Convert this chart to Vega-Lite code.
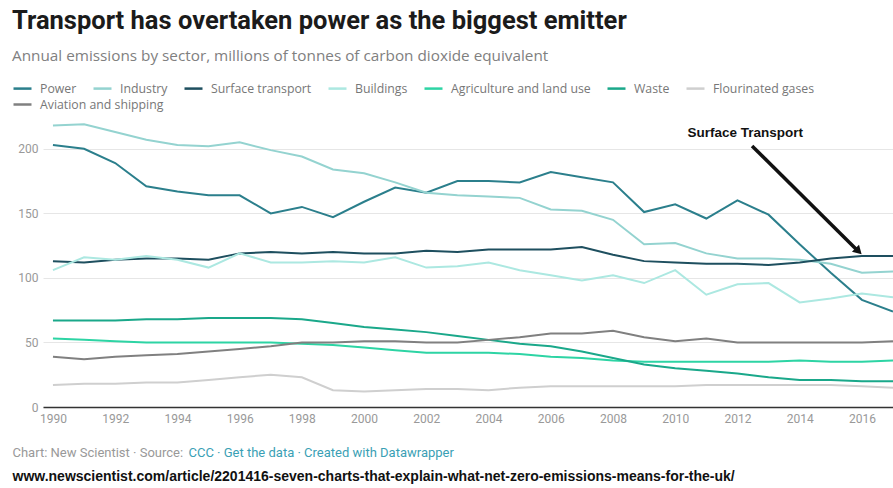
{
  "$schema": "https://vega.github.io/schema/vega-lite/v6.json",
  "width": 850,
  "height": 284,
  "autosize": {"type": "none"},
  "padding": {"left": 43, "top": 123, "right": 0, "bottom": 81},
  "background": "white",
  "title": {
    "text": "Transport has overtaken power as the biggest emitter",
    "subtitle": "Annual emissions by sector, millions of tonnes of carbon dioxide equivalent",
    "anchor": "start",
    "frame": "group",
    "dx": -31,
    "offset": 14,
    "font": "Roboto",
    "fontSize": 25.5,
    "fontWeight": "bold",
    "color": "#1b1b1b",
    "subtitleFont": "Open Sans",
    "subtitleFontSize": 15.3,
    "subtitleColor": "#808080",
    "subtitlePadding": 14
  },
  "datasets": {
    "emissions": [
      {"year": 1990, "Power": 203, "Industry": 218, "Surface transport": 113, "Buildings": 106, "Agriculture and land use": 53, "Waste": 67, "Flourinated gases": 17, "Aviation and shipping": 39},
      {"year": 1991, "Power": 200, "Industry": 219, "Surface transport": 112, "Buildings": 116, "Agriculture and land use": 52, "Waste": 67, "Flourinated gases": 18, "Aviation and shipping": 37},
      {"year": 1992, "Power": 189, "Industry": 213, "Surface transport": 114, "Buildings": 114, "Agriculture and land use": 51, "Waste": 67, "Flourinated gases": 18, "Aviation and shipping": 39},
      {"year": 1993, "Power": 171, "Industry": 207, "Surface transport": 115, "Buildings": 117, "Agriculture and land use": 50, "Waste": 68, "Flourinated gases": 19, "Aviation and shipping": 40},
      {"year": 1994, "Power": 167, "Industry": 203, "Surface transport": 115, "Buildings": 114, "Agriculture and land use": 50, "Waste": 68, "Flourinated gases": 19, "Aviation and shipping": 41},
      {"year": 1995, "Power": 164, "Industry": 202, "Surface transport": 114, "Buildings": 108, "Agriculture and land use": 50, "Waste": 69, "Flourinated gases": 21, "Aviation and shipping": 43},
      {"year": 1996, "Power": 164, "Industry": 205, "Surface transport": 119, "Buildings": 119, "Agriculture and land use": 50, "Waste": 69, "Flourinated gases": 23, "Aviation and shipping": 45},
      {"year": 1997, "Power": 150, "Industry": 199, "Surface transport": 120, "Buildings": 112, "Agriculture and land use": 50, "Waste": 69, "Flourinated gases": 25, "Aviation and shipping": 47},
      {"year": 1998, "Power": 155, "Industry": 194, "Surface transport": 119, "Buildings": 112, "Agriculture and land use": 49, "Waste": 68, "Flourinated gases": 23, "Aviation and shipping": 50},
      {"year": 1999, "Power": 147, "Industry": 184, "Surface transport": 120, "Buildings": 113, "Agriculture and land use": 48, "Waste": 65, "Flourinated gases": 13, "Aviation and shipping": 50},
      {"year": 2000, "Power": 159, "Industry": 181, "Surface transport": 119, "Buildings": 112, "Agriculture and land use": 46, "Waste": 62, "Flourinated gases": 12, "Aviation and shipping": 51},
      {"year": 2001, "Power": 170, "Industry": 174, "Surface transport": 119, "Buildings": 116, "Agriculture and land use": 44, "Waste": 60, "Flourinated gases": 13, "Aviation and shipping": 51},
      {"year": 2002, "Power": 166, "Industry": 166, "Surface transport": 121, "Buildings": 108, "Agriculture and land use": 42, "Waste": 58, "Flourinated gases": 14, "Aviation and shipping": 50},
      {"year": 2003, "Power": 175, "Industry": 164, "Surface transport": 120, "Buildings": 109, "Agriculture and land use": 42, "Waste": 55, "Flourinated gases": 14, "Aviation and shipping": 50},
      {"year": 2004, "Power": 175, "Industry": 163, "Surface transport": 122, "Buildings": 112, "Agriculture and land use": 42, "Waste": 52, "Flourinated gases": 13, "Aviation and shipping": 52},
      {"year": 2005, "Power": 174, "Industry": 162, "Surface transport": 122, "Buildings": 106, "Agriculture and land use": 41, "Waste": 49, "Flourinated gases": 15, "Aviation and shipping": 54},
      {"year": 2006, "Power": 182, "Industry": 153, "Surface transport": 122, "Buildings": 102, "Agriculture and land use": 39, "Waste": 47, "Flourinated gases": 16, "Aviation and shipping": 57},
      {"year": 2007, "Power": 178, "Industry": 152, "Surface transport": 124, "Buildings": 98, "Agriculture and land use": 38, "Waste": 43, "Flourinated gases": 16, "Aviation and shipping": 57},
      {"year": 2008, "Power": 174, "Industry": 145, "Surface transport": 118, "Buildings": 102, "Agriculture and land use": 36, "Waste": 38, "Flourinated gases": 16, "Aviation and shipping": 59},
      {"year": 2009, "Power": 151, "Industry": 126, "Surface transport": 113, "Buildings": 96, "Agriculture and land use": 35, "Waste": 33, "Flourinated gases": 16, "Aviation and shipping": 54},
      {"year": 2010, "Power": 157, "Industry": 127, "Surface transport": 112, "Buildings": 106, "Agriculture and land use": 35, "Waste": 30, "Flourinated gases": 16, "Aviation and shipping": 51},
      {"year": 2011, "Power": 146, "Industry": 119, "Surface transport": 111, "Buildings": 87, "Agriculture and land use": 35, "Waste": 28, "Flourinated gases": 17, "Aviation and shipping": 53},
      {"year": 2012, "Power": 160, "Industry": 115, "Surface transport": 111, "Buildings": 95, "Agriculture and land use": 35, "Waste": 26, "Flourinated gases": 17, "Aviation and shipping": 50},
      {"year": 2013, "Power": 149, "Industry": 115, "Surface transport": 110, "Buildings": 96, "Agriculture and land use": 35, "Waste": 23, "Flourinated gases": 17, "Aviation and shipping": 50},
      {"year": 2014, "Power": 126, "Industry": 114, "Surface transport": 112, "Buildings": 81, "Agriculture and land use": 36, "Waste": 21, "Flourinated gases": 17, "Aviation and shipping": 50},
      {"year": 2015, "Power": 104, "Industry": 111, "Surface transport": 115, "Buildings": 84, "Agriculture and land use": 35, "Waste": 21, "Flourinated gases": 17, "Aviation and shipping": 50},
      {"year": 2016, "Power": 83, "Industry": 104, "Surface transport": 117, "Buildings": 88, "Agriculture and land use": 35, "Waste": 20, "Flourinated gases": 16, "Aviation and shipping": 50},
      {"year": 2017, "Power": 74, "Industry": 105, "Surface transport": 117, "Buildings": 85, "Agriculture and land use": 36, "Waste": 20, "Flourinated gases": 15, "Aviation and shipping": 51}
    ],
    "annotation": [{"label": "Surface Transport"}]
  },
  "layer": [
    {
      "data": {"name": "emissions"},
      "transform": [
        {"fold": ["Power", "Industry", "Surface transport", "Buildings", "Agriculture and land use", "Waste", "Flourinated gases", "Aviation and shipping"], "as": ["sector", "value"]},
        {"filter": "datum.sector !== 'Aviation and shipping'"}
      ],
      "mark": {"type": "line", "strokeWidth": 2, "clip": true},
      "encoding": {
        "x": {
          "field": "year",
          "type": "quantitative",
          "scale": {"domain": [1989.68, 2017], "nice": false, "zero": false},
          "axis": {
            "orient": "bottom",
            "values": [1990, 1992, 1994, 1996, 1998, 2000, 2002, 2004, 2006, 2008, 2010, 2012, 2014, 2016],
            "format": "d",
            "grid": false,
            "ticks": false,
            "domainColor": "#333333",
            "domainWidth": 1.5,
            "labelColor": "#999999",
            "labelFont": "Roboto",
            "labelFontSize": 12,
            "labelPadding": 6,
            "title": "Chart: New Scientist · Source:",
            "titleX": -31,
            "titleY": 45,
            "titleAlign": "left",
            "titleAnchor": "start",
            "titleBaseline": "middle",
            "titleFont": "Roboto",
            "titleFontSize": 13,
            "titleFontWeight": "normal",
            "titleColor": "#999999"
          }
        },
        "y": {
          "field": "value",
          "type": "quantitative",
          "scale": {"domain": [0, 220], "nice": false},
          "axis": {
            "values": [0, 50, 100, 150, 200],
            "grid": true,
            "gridColor": "#e6e6e6",
            "domain": false,
            "ticks": false,
            "labelPadding": 5,
            "labelColor": "#999999",
            "labelFont": "Roboto",
            "labelFontSize": 12,
            "title": null
          }
        },
        "color": {
          "field": "sector",
          "type": "nominal",
          "scale": {
            "domain": ["Power", "Industry", "Surface transport", "Buildings", "Agriculture and land use", "Waste", "Flourinated gases"],
            "range": ["#2b7f8c", "#94d3d0", "#1e4f5f", "#ace8e1", "#2dd4a4", "#1aa88a", "#cfcfcf"]
          },
          "legend": {
            "orient": "none",
            "legendX": -31,
            "legendY": -45,
            "direction": "horizontal",
            "columns": 7,
            "title": null,
            "symbolType": "stroke",
            "symbolSize": 324,
            "symbolStrokeWidth": 2.5,
            "labelOffset": 7,
            "columnPadding": 11,
            "labelFont": "Open Sans",
            "labelFontSize": 12.3,
            "labelColor": "#777777"
          }
        }
      }
    },
    {
      "data": {"name": "emissions"},
      "transform": [
        {"fold": ["Aviation and shipping"], "as": ["sector", "value"]}
      ],
      "mark": {"type": "line", "strokeWidth": 2, "clip": true},
      "encoding": {
        "x": {"field": "year", "type": "quantitative", "axis": null},
        "y": {"field": "value", "type": "quantitative"},
        "stroke": {
          "field": "sector",
          "type": "nominal",
          "scale": {"domain": ["Aviation and shipping"], "range": ["#808080"]},
          "legend": {
            "orient": "none",
            "legendX": -31,
            "legendY": -29,
            "direction": "horizontal",
            "title": null,
            "symbolType": "stroke",
            "symbolSize": 324,
            "symbolStrokeWidth": 2.5,
            "labelOffset": 7,
            "labelFont": "Open Sans",
            "labelFontSize": 12.3,
            "labelColor": "#777777"
          }
        }
      }
    },
    {
      "data": {"name": "annotation"},
      "mark": {"type": "text", "font": "Liberation Sans", "fontSize": 13.5, "fontWeight": "bold", "color": "#111111", "align": "center", "baseline": "middle"},
      "encoding": {
        "text": {"field": "label"},
        "x": {
          "datum": 2012.25,
          "type": "quantitative",
          "scale": {"domain": [1989.68, 2017], "nice": false, "zero": false},
          "axis": {
            "orient": "bottom",
            "labels": false,
            "ticks": false,
            "domain": false,
            "grid": false,
            "title": "www.newscientist.com/article/2201416-seven-charts-that-explain-what-net-zero-emissions-means-for-the-uk/",
            "titleX": -31,
            "titleY": 69,
            "titleAlign": "left",
            "titleAnchor": "start",
            "titleBaseline": "middle",
            "titleFont": "Liberation Sans",
            "titleFontSize": 14,
            "titleFontWeight": "bold",
            "titleColor": "#111111"
          }
        },
        "y": {"datum": 212.3, "type": "quantitative"}
      }
    },
    {
      "data": {"name": "annotation"},
      "mark": {"type": "rule", "strokeWidth": 3.5, "color": "#111111"},
      "encoding": {
        "x": {
          "datum": 2012.47,
          "type": "quantitative",
          "scale": {"domain": [1989.68, 2017], "nice": false, "zero": false},
          "axis": {
            "orient": "bottom",
            "labels": false,
            "ticks": false,
            "domain": false,
            "grid": false,
            "title": "CCC · Get the data · Created with Datawrapper",
            "titleX": 145,
            "titleY": 45,
            "titleAlign": "left",
            "titleAnchor": "start",
            "titleBaseline": "middle",
            "titleFont": "Roboto",
            "titleFontSize": 13,
            "titleFontWeight": "normal",
            "titleColor": "#3a9fb5"
          }
        },
        "y": {"datum": 202.2, "type": "quantitative"},
        "x2": {"datum": 2015.81},
        "y2": {"datum": 122.4}
      }
    },
    {
      "data": {"name": "annotation"},
      "mark": {"type": "point", "shape": "triangle", "angle": 135, "size": 100, "filled": true, "opacity": 1, "color": "#111111"},
      "encoding": {
        "x": {"datum": 2015.86, "type": "quantitative", "axis": null},
        "y": {"datum": 121.4, "type": "quantitative"}
      }
    }
  ],
  "resolve": {"axis": {"x": "independent"}},
  "config": {"view": {"stroke": null}, "font": "Roboto"}
}
